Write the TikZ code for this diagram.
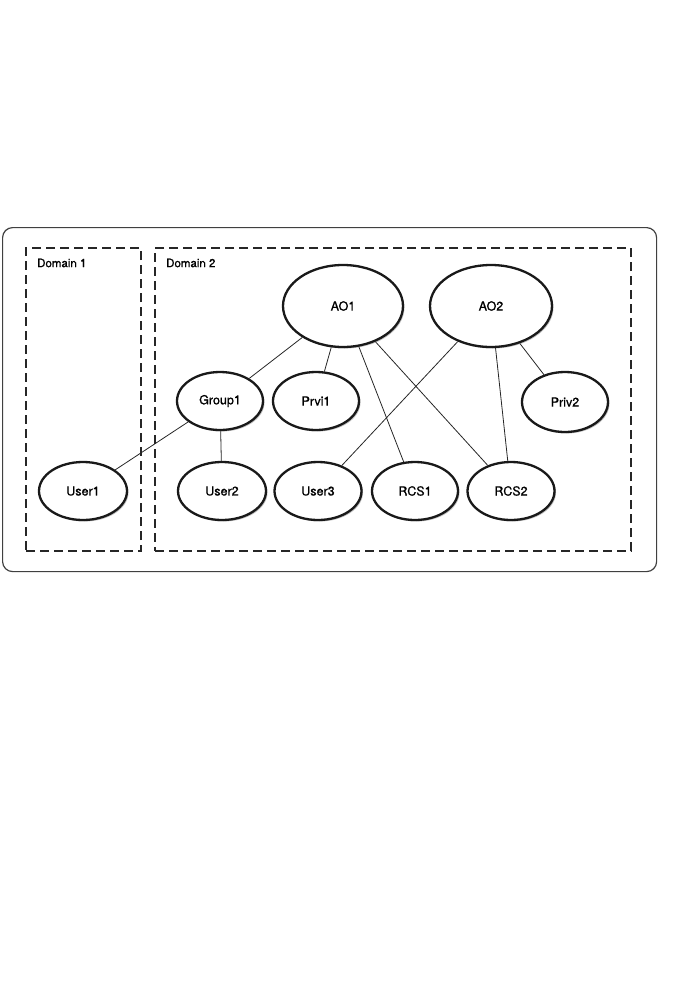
\documentclass[tikz,border=0pt]{standalone}
\usepackage{fontspec}
\setmainfont{TeX Gyre Heros}
\newfontfamily\medfont[FakeBold=0.8]{TeX Gyre Heros}
\usetikzlibrary{shapes.geometric,shadows,backgrounds}
\tikzset{
  ent/.style={ellipse, draw=black!90, line width=2.3pt, fill=white, inner sep=0pt,
    font=\medfont\fontsize{12.5}{14}\selectfont,
    drop shadow={shadow xshift=1.5pt, shadow yshift=-1.5pt, fill=black!45, opacity=0.55}},
  domainbox/.style={draw=black!85, line width=2pt, dash pattern=on 9pt off 5pt},
  outerbox/.style={draw=black!75, line width=1.2pt, rounded corners=10pt},
  link/.style={draw=black!85, line width=0.8pt},
  dlabel/.style={anchor=west, inner sep=0pt, font=\medfont\fontsize{11.5}{13}\selectfont}
}
\begin{document}
\begin{tikzpicture}[x=1pt,y=-1pt]
\useasboundingbox (0,0) rectangle (675,1002);
\node[outerbox, minimum width=654pt, minimum height=344pt, anchor=north west, inner sep=0pt] (outer) at (2,227) {};
\node[domainbox, minimum width=115pt, minimum height=303pt, anchor=north west, inner sep=0pt] (d1) at (25,247) {};
\node[domainbox, minimum width=476pt, minimum height=303pt, anchor=north west, inner sep=0pt] (d2) at (154,247) {};
\node[dlabel] (d1l) at (37,263) {Domain 1};
\node[dlabel] (d2l) at (166,263) {Domain 2};

\node[ent, minimum width=120pt, minimum height=82pt] (AO1) at (343,306) {AO1};
\node[ent, minimum width=122pt, minimum height=82pt] (AO2) at (491,306) {AO2};
\node[ent, minimum width=86pt, minimum height=58pt] (Group1) at (220,401) {Group1};
\node[ent, minimum width=86pt, minimum height=58pt] (Prvi1) at (316,401) {Prvi1};
\node[ent, minimum width=86pt, minimum height=60pt] (Priv2) at (565,402) {Priv2};
\node[ent, minimum width=88pt, minimum height=58pt] (User1) at (83,491) {User1};
\node[ent, minimum width=88pt, minimum height=58pt] (User2) at (222,491) {User2};
\node[ent, minimum width=87pt, minimum height=58pt] (User3) at (318,491) {User3};
\node[ent, minimum width=86pt, minimum height=58pt] (RCS1) at (415,491) {RCS1};
\node[ent, minimum width=87pt, minimum height=58pt] (RCS2) at (511,491) {RCS2};

\begin{scope}[on background layer]
\draw[link] (AO1) -- (Group1);
\draw[link] (AO1) -- (Prvi1);
\draw[link] (AO1) -- (RCS1);
\draw[link] (AO1) -- (RCS2);
\draw[link] (AO2) -- (User3);
\draw[link] (AO2) -- (RCS2);
\draw[link] (AO2) -- (Priv2);
\draw[link] (Group1) -- (User1);
\draw[link] (Group1) -- (User2);
\end{scope}
\end{tikzpicture}
\end{document}
